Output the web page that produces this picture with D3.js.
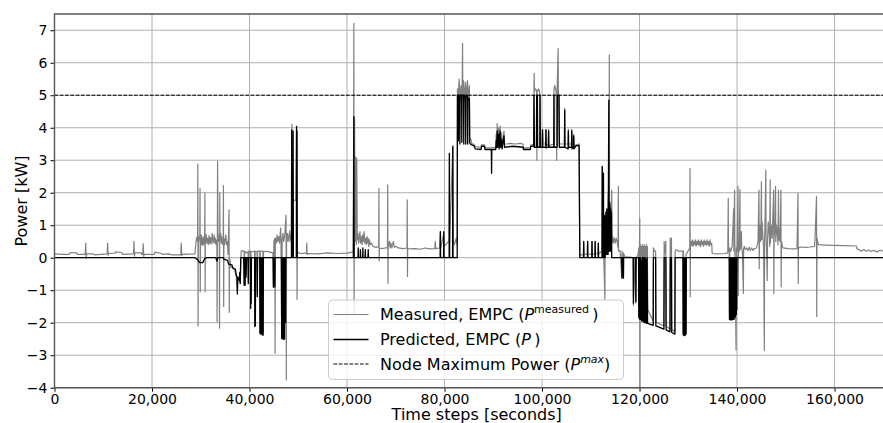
<!DOCTYPE html>
<html lang="en">
<head>
<meta charset="UTF-8">
<title>EMPC power</title>
<script src="https://cdn.jsdelivr.net/npm/d3@7"></script>
<style>
body{margin:0;background:#fff}
text{font-family:"DejaVu Sans",sans-serif;fill:#000}
</style>
</head>
<body>
<script>
// [time step (s), power (kW)]
var measured = [
[0,0.12],[1500,0.10],[3000,0.10],[3300,0.16],[4500,0.15],[4700,0.10],[6300,0.10],[6400,0.45],[6500,-0.03],[6600,0.12],[8000,0.12],[8200,0.09],[10800,0.12],[10900,0.45],[11000,0.07],[11100,0.13],[12400,0.14],[12500,0.18],[13800,0.16],[14000,0.10],[16200,0.12],[16300,0.50],[16400,0.05],[16500,0.15],[17800,0.15],[17900,0.10],[18100,0.10],[18200,0.43],[18300,0.03],[18400,0.10],[20500,0.10],[20600,0.17],[22000,0.13],[22100,0.10],[23500,0.12],[24000,0.09],[25900,0.09],[26000,0.45],[26100,0.06],[26200,0.10],[28800,0.12],
[29000,0.45],[29150,0.62],[29350,0.5],[29400,2.88],[29450,-2.1],[29500,0.4],[29650,0.65],[29800,0.55],[29850,2.13],[29900,-1.05],[29950,0.45],[30100,0.7],[30200,0.4],[30300,0.6],[30400,0.38],[30500,0.65],[30650,0.42],[30800,0.5],[30850,2.0],[30900,-1.05],[30950,0.55],[31100,0.72],[31250,0.45],[31400,0.6],[31550,0.4],[31700,0.68],[31800,0.45],[31950,0.62],[32100,0.42],[32200,0.55],[32350,0.75],[32500,0.45],[32600,0.5],[32750,0.7],[32900,0.45],[33000,0.6],[33150,0.4],[33300,0.55],[33350,-1.97],[33450,2.97],[33550,0.5],[33650,0.7],[33800,0.6],[33850,-2.17],[33900,2.0],[33950,0.55],[34100,0.75],[34200,0.45],[34300,0.65],[34450,0.42],[34600,0.5],[34650,2.22],[34700,-1.5],[34750,0.6],[34900,0.4],[35000,0.55],[35150,0.7],[35300,0.4],[35450,0.5],[35600,0.1],[35800,1.47],[35850,-1.68],[35900,0.0],
[36200,-0.3],[36600,-0.3],[37000,-0.4],[37300,-0.6],[37500,-1.0],[37600,-0.6],[37900,-0.7],[38100,-0.75],[38300,0.2],[38500,0.22],[38900,0.2],[38950,-0.8],[39000,0.2],[39300,0.15],[39700,0.18],[39750,-0.7],[39800,0.2],[40200,0.2],[40250,-1.4],[40300,0.18],[41050,0.2],[41100,-2.07],[41150,0.2],[41550,0.18],[41600,-1.1],[41650,0.2],[42100,0.2],[42150,-2.3],[42200,0.2],[42750,0.2],[42800,-2.3],[42850,0.18],[43500,0.2],[44000,0.18],[44800,0.15],[44900,-0.85],[45000,0.5],[45200,0.6],[45250,-2.94],[45300,0.6],[45500,0.45],[45650,0.7],[45800,0.5],[46000,0.65],[46150,0.45],[46400,0.92],[46450,0.6],[46600,-2.4],[46700,0.55],[46850,0.75],[47000,0.5],[47200,0.65],[47500,1.31],[47550,-3.76],[47600,0.55],[47750,0.75],[47900,0.5],[48250,0.83],[48300,0.5],[48450,0.7],[48600,0.55],[48700,4.11],[48750,1.78],[49000,1.75],[49500,1.78],[49650,4.05],[49750,-1.28],[49800,0.2],[50000,0.15],[50500,0.13],[51700,0.15],[51750,0.45],[51800,0.1],[52000,0.13],[54000,0.12],[56000,0.15],[58000,0.13],[60000,0.14],[61300,0.18],
[61400,7.21],[61450,-1.75],[61550,4.3],[61650,0.5],[61800,3.1],[61900,0.4],[62000,3.05],[62100,0.55],[62250,0.75],[62400,0.45],[62500,0.6],[62650,0.8],[62800,0.45],[62950,0.65],[63100,0.4],[63200,0.7],[63350,0.5],[63500,0.8],[63650,0.45],[63800,0.6],[63950,0.4],[64100,0.65],[64200,0.45],[64350,0.6],[64450,0.35],[64600,0.55],[64800,0.4],[65000,0.45],[65300,0.35],[66000,0.32],[66500,0.35],[66550,2.13],[66600,-0.1],[66650,0.3],[67200,0.28],[67800,0.3],[68300,0.3],[68350,2.24],[68400,-0.79],[68450,0.35],[68700,0.5],[68850,0.3],[69000,0.45],[69200,0.3],[69500,0.5],[69700,0.32],[70000,0.35],[70500,0.3],[71500,0.28],[72300,0.3],[72350,1.78],[72400,-0.58],[72450,0.3],[73000,0.27],[74000,0.28],[75000,0.26],[76000,0.3],[77000,0.27],[78000,0.28],[78100,0.5],[78200,0.28],[79000,0.3],[79150,0.8],[79250,0.3],[79850,0.75],[79950,0.35],[80500,0.45],[80950,0.5],[81000,3.2],[81050,0.45],[81700,3.45],[81750,0.55],[82000,0.4],[82400,0.6],[82600,0.4],
[82650,5.2],[82800,4.9],[83000,5.5],[83200,4.8],[83400,5.3],[83600,4.9],[83700,6.6],[83750,5.0],[83900,5.45],[84100,4.8],[84300,5.4],[84500,4.9],[84700,5.45],[84900,4.85],[85100,5.3],[85200,3.6],[85400,3.65],[85600,3.5],[86000,3.5],[86300,3.42],[87500,3.4],[87600,3.47],[88200,3.47],[88300,3.38],[89600,3.38],[90500,3.4],[90600,3.8],[90700,3.5],[90800,4.13],[90900,3.45],[91100,4.0],[91200,3.5],[91400,4.05],[91500,3.45],[91700,3.85],[91800,3.45],[92200,3.9],[92300,3.5],[92800,3.5],[93500,3.52],[94500,3.5],[95500,3.52],[96100,3.5],[96200,3.38],[97600,3.38],[97700,3.47],[98300,3.5],[98350,5.2],[98400,5.67],[98450,5.1],[98600,5.2],[98900,5.15],[98950,3.0],[99000,5.1],[99300,5.2],[99500,5.1],[99600,3.5],[100000,3.5],[100100,3.95],[100200,3.5],[100700,3.5],[100800,3.95],[100900,3.45],[101300,3.5],[101350,3.95],[101400,3.45],[102400,3.5],[102450,5.2],[102600,5.3],[102900,5.1],[103000,3.0],[103100,5.2],[103300,6.44],[103350,5.2],[103550,3.5],[104600,3.5],[104650,4.6],[104700,3.5],[105350,3.5],[105400,3.95],[105450,3.5],[106050,3.5],[106100,3.95],[106150,3.45],[106500,3.8],[106600,3.45],[107600,3.5],[107750,0.05],
[108000,0.1],[108500,0.08],[108550,0.45],[108600,0.1],[109300,0.12],[109350,0.5],[109400,0.1],[110200,0.12],[110250,0.5],[110300,0.1],[110850,0.12],[110900,0.5],[110950,0.12],[111500,0.13],[111550,0.45],[111600,0.12],[112300,0.2],[112350,2.82],[112400,0.3],[112550,2.6],[112600,0.4],[112900,-1.3],[112950,1.2],[113200,1.3],[113300,1.5],[113400,0.8],[113600,2.0],[113700,1.0],[113800,6.24],[113850,1.2],[114000,1.6],[114100,0.6],[114300,2.08],[114350,0.5],[114500,0.65],[114600,0.45],[114800,0.6],[115000,0.45],[115200,0.6],[115400,0.5],[115600,0.3],[115650,2.2],[115700,0.2],[116000,0.22],[116350,-0.6],[116400,0.2],[116650,-0.6],[116700,0.15],[117000,0.02],[118000,0.02],[118700,0.0],[118750,-1.47],[118800,0.0],[119250,-1.4],[119300,0.0],[119700,0.1],
[119850,0.3],[119900,-1.75],[120000,0.35],[120050,1.21],[120100,-3.97],[120150,0.4],[120250,-1.8],[120350,0.35],[120450,-1.85],[120550,0.4],[120650,-1.9],[120750,0.35],[120850,-1.9],[120950,0.4],[121050,-1.92],[121150,0.35],[121300,-1.95],[121400,0.4],[121500,-1.95],[121600,0.35],[121700,-1.6],[122800,-1.95],[122850,0.3],[123100,0.2],[123300,0.2],[123350,-1.98],[125000,-2.1],[125050,0.5],[125100,0.1],[125400,0.5],[125450,-2.1],[126250,-2.2],[126300,0.6],[126350,0.15],[126550,0.6],[126600,-2.2],[127250,-2.28],[127300,0.2],[127500,0.25],[128000,0.2],[128900,0.2],[128950,-2.3],[129000,0.2],[129500,-2.3],[129550,0.1],[130300,0.3],[130350,2.75],[130400,-1.2],
[130450,0.35],[130600,0.5],[130700,0.38],[130850,0.55],[131000,0.35],[131150,0.5],[131300,0.4],[131450,0.55],[131600,0.35],[131750,0.5],[131900,0.4],[132050,0.55],[132200,0.38],[132350,0.5],[132500,0.35],[132650,0.55],[132800,0.4],[132950,0.5],[133100,0.35],[133250,0.55],[133400,0.4],[133550,0.5],[133700,0.38],[133850,0.55],[134000,0.4],[134150,0.5],[134300,0.35],[134450,0.55],[134600,0.4],[134800,0.45],[134900,0.13],[136000,0.12],[137500,0.13],[138100,0.15],
[138200,1.83],[138250,0.2],[138400,0.25],[138450,-1.8],[138500,0.3],[138700,0.2],[139000,0.35],[139300,1.5],[139350,0.2],[139500,2.08],[139550,0.3],[139800,-2.84],[139850,0.3],[140000,0.2],[140200,2.2],[140250,-1.16],[140300,0.3],[140450,0.2],[140600,2.1],[140650,0.25],[140900,0.8],[140950,0.3],[141100,0.2],[141300,-1.1],[141350,0.28],[141500,0.35],[141700,0.25],[142000,0.3],[142200,0.22],[142500,0.32],[142700,0.22],[143000,0.3],[143300,0.22],[143500,0.28],[144000,0.3],[144300,0.5],[144500,2.08],[144550,-0.34],[144600,0.6],[144700,1.0],[144800,0.5],[144900,0.9],[145000,2.34],[145050,0.55],[145150,1.1],[145300,0.65],[145450,0.3],[145600,-2.85],[145650,0.5],[145750,1.2],[145900,2.7],[145950,0.6],[146050,0.3],[146200,-0.7],[146250,0.55],[146400,1.1],[146600,0.7],[146700,0.35],[146800,2.4],[146850,0.45],[147000,1.0],[147200,0.6],[147350,1.3],[147500,2.08],[147550,-1.1],[147600,0.6],[147750,0.9],[147900,2.2],[147950,0.5],[148100,1.0],[148300,0.7],[148400,0.4],[148500,2.08],[148550,0.55],[148700,0.9],[148800,0.5],[149000,2.08],[149050,-0.9],[149100,0.5],[149400,0.3],[150500,0.28],[151500,0.27],[152300,0.28],[152500,1.98],[152550,-0.79],[152600,0.3],[153000,0.33],[154000,0.32],[155000,0.33],[155900,0.35],[156000,0.6],[156300,1.88],[156350,-1.81],[156400,0.6],[156600,0.45],[156700,0.4],[158000,0.39],[160000,0.38],[162000,0.37],[164500,0.36],[164600,0.27],[165000,0.25],[165500,0.2],[166000,0.25],[166500,0.2],[167000,0.24],[167500,0.19],[168000,0.23],[168700,0.18],[169300,0.23],[170000,0.2]
];

var predicted = [
[0,0],[28800,0],[29300,-0.05],[29800,-0.15],[30400,-0.15],[30800,-0.03],[31300,0],[33100,0],[33300,-0.1],[33500,0],[34600,0],[34800,-0.05],[35500,-0.08],[35700,-0.2],[36400,-0.22],[36600,-0.33],[37100,-0.35],[37300,-0.55],[37450,-0.6],[37500,-1.12],[37600,-0.6],[37900,-0.7],[38000,-0.45],[38100,-0.8],[38200,0],[38800,0],[38900,-0.85],[39000,0],[39100,-0.85],[39200,0],[39300,-0.6],[39400,0],[39700,0],[39750,-0.8],[39800,0],[40200,0],[40250,-1.56],[40300,0],[40350,-1.4],[40400,0],[41050,0],[41100,-2.12],[41150,0],[41200,-2.1],[41250,0],[41550,0],[41600,-1.2],[41650,0],[42100,0],[42150,-2.33],[42200,0],[42300,-2.35],[42350,0],[42450,-2.35],[42500,0],[42650,-2.38],[42700,0],[42800,-2.38],[42850,0],[44850,0],[44900,-0.91],[44950,0],[45200,-0.9],[45250,0],[46550,0],[46600,-2.48],[46650,0],[46750,-2.5],[46800,0],[46900,-2.5],[46950,0],[47050,-2.52],[47100,0],[47200,-2.5],[47250,0],[47400,-2.0],[47450,0],[48600,0],[48650,3.93],[48700,0],[48900,0],[48950,3.9],[49000,0],[49600,0],[49650,4.03],[49700,0],[49750,3.9],[49800,0],
[61300,0],[61400,4.34],[61450,0],[62250,0],[62300,0.3],[62350,0],[62700,0],[62750,0.25],[62800,0],[63200,0],[63250,0.3],[63300,0],[63700,0],[63750,0.25],[63800,0],[64300,0],[64350,0.25],[64400,0],[79100,0],[79150,0.8],[79200,0],[79800,0],[79850,0.8],[79900,0],[80950,0],[81000,3.21],[81050,0],[81650,0],[81700,3.42],[81750,0],[82600,0],
[82650,5.0],[82800,5.0],[82850,3.6],[82900,5.0],[83100,5.0],[83150,3.5],[83200,5.0],[83500,5.0],[83550,3.55],[83600,5.0],[83900,5.0],[83950,3.5],[84000,5.0],[84300,4.95],[84350,3.5],[84400,5.0],[84700,5.0],[84750,3.5],[84800,4.9],[85100,4.9],[85150,3.55],[85300,3.5],[85600,3.47],[86000,3.45],[86300,3.35],[87500,3.33],[87600,3.43],[88200,3.43],[88300,3.33],[89600,3.33],[89650,2.6],[89700,3.33],[90500,3.33],[90600,3.6],[90700,3.4],[90800,3.9],[90900,3.4],[91100,3.8],[91200,3.35],[91400,3.9],[91500,3.4],[91700,3.65],[91800,3.35],[92200,3.75],[92300,3.4],[94000,3.43],[96100,3.4],[96200,3.33],[97600,3.33],[97700,3.43],[98300,3.43],[98350,5.0],[98450,3.4],[98850,3.4],[98900,5.0],[99050,5.0],[99100,3.4],[99550,3.4],[99600,5.0],[99650,3.4],[100050,3.4],[100100,3.93],[100150,3.4],[100750,3.4],[100800,3.93],[100850,3.38],[101300,3.4],[101350,3.9],[101400,3.4],[102400,3.4],[102450,5.0],[102500,3.4],[103100,3.4],[103150,5.0],[103500,5.0],[103550,3.4],[104600,3.4],[104650,4.54],[104700,3.4],[105350,3.35],[105400,3.9],[105450,3.4],[106050,3.4],[106100,3.9],[106150,3.35],[106450,3.4],[106500,3.75],[106550,3.35],[107000,3.45],[107600,3.45],[107750,0],
[108500,0],[108550,0.5],[108600,0],[109300,0],[109350,0.5],[109400,0],[110200,0],[110250,0.5],[110300,0],[110850,0],[110900,0.5],[110950,0],[111500,0],[111550,0.45],[111600,0],[112300,0],[112350,2.8],[112400,0],[112550,0],[112600,2.6],[112650,0],[112850,0],[112900,1.3],[112950,0],[113100,1.4],[113150,0.1],[113300,1.5],[113350,0.1],[113500,1.2],[113550,0.1],[113700,4.85],[113750,0.2],[113900,1.7],[113950,0.2],[114100,1.5],[114150,0.2],[114250,1.4],[114300,0],[116350,0],[116400,-0.63],[116450,0],[116650,0],[116700,-0.63],[116750,0],[118700,0],[118750,-1.4],[118800,0],[119200,0],[119250,-1.35],[119300,0],[119800,0],[119850,-1.85],[119950,0],[120050,-1.9],[120150,0],[120250,-1.9],[120350,-0.1],[120450,-1.95],[120550,0],[120650,-1.95],[120750,0],[120850,-1.98],[120950,0],[121050,-2.0],[121150,0],[121250,-2.0],[121350,-0.05],[121450,-2.02],[121550,0],[121650,-2.02],[122800,-2.08],[122850,0],[123300,0],[123350,-2.1],[125000,-2.2],[125050,0],[125400,0],[125450,-2.22],[126250,-2.28],[126300,0],[126550,0],[126600,-2.3],[127250,-2.35],[127300,0],[128900,0],[128950,-2.38],[129000,0],[129100,-2.38],[129150,0],[129250,-2.4],[129300,0],[129400,-2.38],[129450,0],[129550,-2.35],[129600,0],
[138400,0],[138450,-1.9],[138500,0],[138550,-1.85],[138600,0],[138650,-1.92],[138700,0],[138750,-1.9],[138800,0],[138850,-1.8],[138900,0],[138950,-1.92],[139000,0],[139050,-1.88],[139100,0],[139150,-1.9],[139200,0],[139250,-1.85],[139300,0],[139350,-1.9],[139400,0],[139450,-1.75],[139500,0],[139550,-1.85],[139600,0],[139650,-1.8],[139700,0],[139750,-1.7],[139800,0],[139850,-1.75],[139900,0],[139950,-1.6],[140000,0],[170000,0]
];

var xTicks = [0,20000,40000,60000,80000,100000,120000,140000,160000];
var yTicks = [-4,-3,-2,-1,0,1,2,3,4,5,6,7];
var pMax = 5;

var W = 883, H = 423;
var padL = 54.5, padT = 14, padB = 387.7;

// axes extend a little past the right edge of the picture
var x = d3.scaleLinear().domain([0, 173200]).range([padL, 898.9]);
var y = d3.scaleLinear().domain([-4, 7.5]).range([padB, padT]);

var svg = d3.select('body').append('svg')
    .attr('width', W).attr('height', H);

svg.append('defs').append('clipPath').attr('id', 'plot')
  .append('rect').attr('x', padL).attr('y', padT)
  .attr('width', W - padL).attr('height', padB - padT);

// grid
var grid = svg.append('g').attr('stroke', '#b0b0b0').attr('stroke-width', 1);
grid.selectAll('.gx').data(xTicks).enter().append('line')
    .attr('x1', d => x(d)).attr('x2', d => x(d)).attr('y1', padT).attr('y2', padB);
grid.selectAll('.gy').data(yTicks).enter().append('line')
    .attr('x1', padL).attr('x2', W).attr('y1', d => y(d)).attr('y2', d => y(d));

var line = d3.line().x(d => x(d[0])).y(d => y(d[1]));
var plot = svg.append('g').attr('clip-path', 'url(#plot)')
    .attr('fill', 'none').attr('stroke-linejoin', 'round');

plot.append('path').datum(measured).attr('d', line)
    .attr('stroke', '#808080').attr('stroke-width', 1.2);
plot.append('path').datum(predicted).attr('d', line)
    .attr('stroke', '#000').attr('stroke-width', 1.3);
plot.append('path').datum([[0, pMax], [173200, pMax]]).attr('d', line)
    .attr('stroke', '#000').attr('stroke-width', 1).attr('stroke-dasharray', '3.7,1.6');

// axes
var ax = svg.append('g').attr('transform', `translate(0,${padB})`)
    .call(d3.axisBottom(x).tickValues(xTicks).tickFormat(d3.format(',')).tickSize(4).tickPadding(2));
var ay = svg.append('g').attr('transform', `translate(${padL},0)`)
    .call(d3.axisLeft(y).tickValues(yTicks).tickFormat(d3.format('d')).tickSize(4).tickPadding(3));
[ax, ay].forEach(a => {
  a.select('.domain').remove();
  a.selectAll('line').attr('stroke', '#000').attr('stroke-width', 1);
  a.selectAll('text').attr('font-size', 14).attr('font-family', '"DejaVu Sans", sans-serif').attr('fill', '#000');
});

// spines
svg.append('path').attr('fill', 'none').attr('stroke', '#555').attr('stroke-width', 1.4)
    .attr('d', `M${W},${padT}H${padL}V${padB}H${W}`);

svg.append('text').attr('x', 476.7).attr('y', 420).attr('text-anchor', 'middle')
    .attr('font-size', 16).text('Time steps [seconds]');
svg.append('text').attr('transform', 'translate(26.5,201) rotate(-90)').attr('text-anchor', 'middle')
    .attr('font-size', 16).text('Power [kW]');

// legend
var lg = svg.append('g');
lg.append('rect').attr('x', 328.5).attr('y', 300).attr('width', 295).attr('height', 79.5)
    .attr('rx', 4).attr('fill', '#fff').attr('fill-opacity', 0.8).attr('stroke', '#ccc');
var rows = [
  {y: 314.5, stroke: '#808080', w: 1, dash: null},
  {y: 339.5, stroke: '#000', w: 1.3, dash: null},
  {y: 364, stroke: '#000', w: 1, dash: '3.7,1.6'}
];
rows.forEach(r => {
  lg.append('line').attr('x1', 333.5).attr('x2', 368.5).attr('y1', r.y).attr('y2', r.y)
    .attr('stroke', r.stroke).attr('stroke-width', r.w).attr('stroke-dasharray', r.dash);
});
var t1 = lg.append('text').attr('x', 380).attr('y', rows[0].y + 5.8).attr('font-size', 16);
t1.append('tspan').text('Measured, EMPC (');
t1.append('tspan').attr('font-style', 'italic').text('P');
t1.append('tspan').attr('font-size', 11).attr('dy', -7).text('measured');
t1.append('tspan').attr('dy', 7).text('\u2009)');
var t2 = lg.append('text').attr('x', 380).attr('y', rows[1].y + 5.8).attr('font-size', 16);
t2.append('tspan').text('Predicted, EMPC (');
t2.append('tspan').attr('font-style', 'italic').text('P');
t2.append('tspan').text('\u2009)');
var t3 = lg.append('text').attr('x', 380).attr('y', rows[2].y + 5.8).attr('font-size', 16);
t3.append('tspan').text('Node Maximum Power (');
t3.append('tspan').attr('font-style', 'italic').text('P');
t3.append('tspan').attr('font-style', 'italic').attr('font-size', 11).attr('dy', -7).text('max');
t3.append('tspan').attr('dy', 7).text(')');
</script>
</body>
</html>
